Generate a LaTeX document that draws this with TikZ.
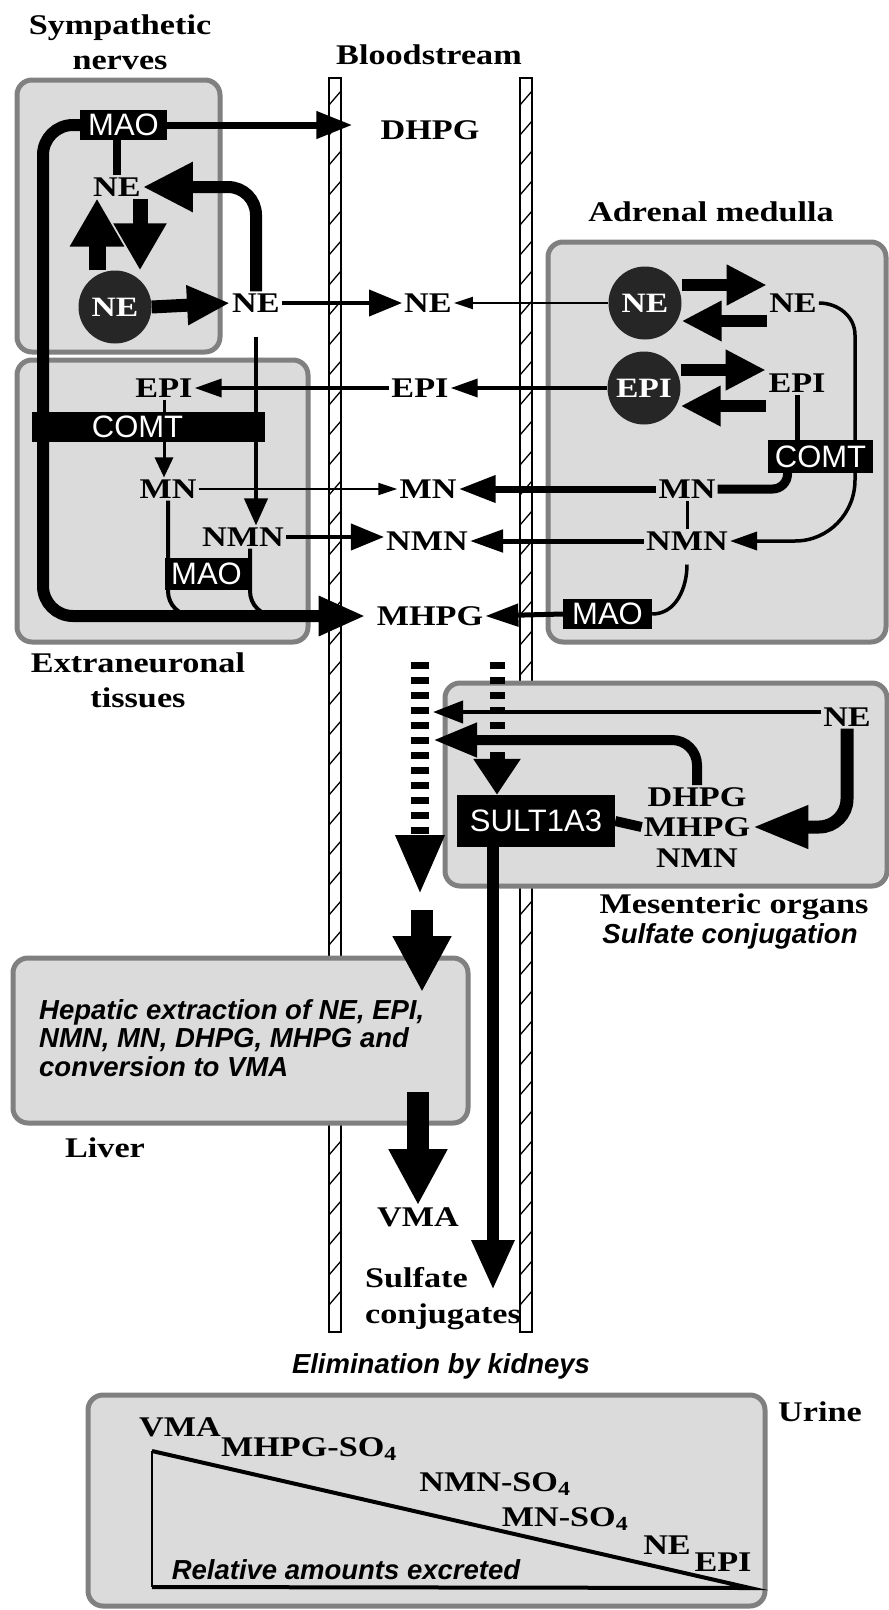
\documentclass[tikz,border=0pt]{standalone}
\usepackage{fontspec}
\setmainfont{Liberation Serif}[FakeStretch=1.2]
\setsansfont{Liberation Sans}
\usetikzlibrary{arrows.meta}
\pgfdeclarelayer{back}
\pgfdeclarelayer{lines}
\pgfsetlayers{back,lines,main}

\begin{document}
\begin{tikzpicture}[x=1pt,y=-1pt,
  every node/.style={inner sep=2pt},
  lab/.style={font=\fontsize{28.5}{35}\selectfont\bfseries,align=center},
  ital/.style={font=\sffamily\bfseries\itshape\fontsize{27.5}{28.5}\selectfont},
  enz/.style={fill=black,text=white,font=\sffamily\fontsize{31}{31}\selectfont,inner sep=0pt},
  ves/.style={circle,fill=black!85,text=white,minimum size=73pt,inner sep=0pt,font=\fontsize{28}{28}\selectfont\bfseries},
  organ/.style={draw=black!50,fill=black!14,line width=5pt,rounded corners=15pt},
  wall/.style={draw=black,fill=white,line width=1.6pt},
  hatch/.style={line width=1.3pt},
  thinarr/.style={line width=2pt,-{Triangle[length=19pt,width=12pt]}},
  midarr/.style={line width=4pt,-{Triangle[length=33pt,width=26pt]}},
  medarr/.style={line width=3.5pt,-{Triangle[length=27pt,width=18pt]}},
  pair/.style={line width=12pt,-{Triangle[length=40pt,width=38pt]}},
  big/.style={line width=22pt,-{Triangle[length=56pt,width=55pt]}},
  ebar/.style={line width=8pt}]
\useasboundingbox (0,0) rectangle (889,1610);
\begin{pgfonlayer}{back}
\foreach \wx in {329,520} {
  \draw[wall] (\wx,78) rectangle (\wx+12,1332);
  \foreach \wy in {98,128,...,1318} \draw[hatch] (\wx,\wy+7) -- (\wx+12,\wy-7);
}
\node[organ,minimum width=203pt,minimum height=272pt] (BoxSym) at (118.5,216) {};
\node[organ,minimum width=291pt,minimum height=282pt] (BoxExt) at (162.5,501) {};
\node[organ,minimum width=338pt,minimum height=400pt] (BoxAdr) at (717,442) {};
\node[organ,minimum width=442pt,minimum height=203pt] (BoxMes) at (666,784.5) {};
\node[organ,minimum width=455pt,minimum height=165pt] (BoxLiv) at (240.5,1040.5) {};
\node[organ,minimum width=677pt,minimum height=211pt] (BoxUri) at (426.5,1500.5) {};
\end{pgfonlayer}
\node[lab] (TitleSym) at (120,42) {Sympathetic\\nerves};
\node[lab] (TitleBlood) at (429,55) {Bloodstream};
\node[lab] (TitleAdr) at (711,212) {Adrenal medulla};
\node[lab] (TitleExt) at (138,680) {Extraneuronal\\tissues};
\node[lab] (TitleMes) at (734,907) {Mesenteric organs};
\node[ital] (SubMes) at (730,936) {Sulfate conjugation};
\node[lab] (TitleLiv) at (105,1148) {Liver};
\node[ital] (Elim) at (441,1366) {Elimination by kidneys};
\node[lab] (TitleUri) at (820,1412) {Urine};
\node[enz,minimum width=87pt,minimum height=30pt] (SymMAO) at (123.5,125) {MAO};
\node[lab] (SymNEin) at (117,187) {NE};
\node[ves] (SymNEves) at (115,307) {NE};
\node[lab] (SymNE) at (256,303) {NE};
\node[lab] (BloodDHPG) at (430,130) {DHPG};
\node[lab] (BloodNE) at (428,303) {NE};
\node[lab] (BloodEPI) at (420,388) {EPI};
\node[lab] (BloodMN) at (428,489) {MN};
\node[lab] (BloodNMN) at (427,541) {NMN};
\node[lab] (BloodMHPG) at (430,616) {MHPG};
\node[lab] (ExtEPI) at (164,388) {EPI};
\node[enz,minimum width=233pt,minimum height=30pt] (ExtCOMT) at (148.5,427) {COMT\rule{22pt}{0pt}};
\node[lab] (ExtMN) at (168,489) {MN};
\node[lab] (ExtNMN) at (243,537) {NMN};
\node[enz,minimum width=83pt,minimum height=32pt] (ExtMAO) at (206.5,574) {MAO};
\node[ves] (AdrNEves) at (645,303) {NE};
\node[ves] (AdrEPIves) at (644,388) {EPI};
\node[lab] (AdrNE) at (793,303) {NE};
\node[lab] (AdrEPI) at (797,383) {EPI};
\node[enz,minimum width=105pt,minimum height=33pt] (AdrCOMT) at (820.5,456.5) {COMT};
\node[lab] (AdrMN) at (687,489) {MN};
\node[lab] (AdrNMN) at (687,541) {NMN};
\node[enz,minimum width=89pt,minimum height=30pt] (AdrMAO) at (607.5,614) {MAO};
\node[enz,minimum width=158pt,minimum height=52pt] (MesSULT) at (536,821) {SULT1A3};
\node[lab] (MesNE) at (847,717) {NE};
\node[lab] (MesDHPG) at (697,797) {DHPG};
\node[lab] (MesMHPG) at (697,827) {MHPG};
\node[lab] (MesNMN) at (697,858) {NMN};
\coordinate (DashLTop) at (420,662);
\coordinate (DashLTip) at (420,895);
\coordinate (DashRTop) at (497,662);
\coordinate (MesHitA) at (433,712);
\coordinate (MesHitB) at (433,740);
\node[ital,align=left,anchor=west] (LivText) at (37,1038) {Hepatic extraction of NE, EPI,\\NMN, MN, DHPG, MHPG and\\conversion to VMA};
\coordinate (LivInTop) at (422,910);
\coordinate (LivInTip) at (422,992);
\coordinate (LivOutTop) at (418,1092);
\node[lab] (BloodVMA) at (418,1217) {VMA};
\node[lab,align=left,anchor=north west,font=\fontsize{28.5}{36}\selectfont\bfseries] (BloodSulf) at (363,1265) {Sulfate\\conjugates};
\coordinate (SulfTip) at (493,1290);
\coordinate (UriTop) at (152,1451);
\coordinate (UriCorner) at (152,1587);
\coordinate (UriEnd) at (750,1588);
\node[lab] (UriVMA) at (180,1427) {VMA};
\node[lab] (UriMHPG) at (309,1449) {MHPG-SO\textsubscript{4}};
\node[lab] (UriNMN) at (495,1484) {NMN-SO\textsubscript{4}};
\node[lab] (UriMN) at (565,1519) {MN-SO\textsubscript{4}};
\node[lab] (UriNE) at (667,1545) {NE};
\node[lab] (UriEPI) at (723,1562) {EPI};
\node[ital] (UriRel) at (346,1570) {Relative amounts excreted};
\begin{pgfonlayer}{lines}
\draw[line width=7pt,-{Triangle[length=36pt,width=26pt]}] (SymMAO.east) -- ([xshift=-26pt]SymMAO.east -| BloodDHPG.west);
\draw[ebar] (SymMAO.south -| SymNEin) -- (SymNEin.north);
\draw[line width=12pt,rounded corners=30pt,-{Triangle[length=47pt,width=37pt]}] (SymMAO.west) -| (43,616) -- ([xshift=-9pt]BloodMHPG.west);
\draw[line width=17pt,-{Triangle[length=48pt,width=51pt]}] ([xshift=-18pt]SymNEves.north) -- ([xshift=-20pt]SymNEin.south);
\draw[line width=15pt,-{Triangle[length=47pt,width=50pt]}] ([xshift=23pt]SymNEin.south) -- ([xshift=25pt]SymNEves.north);
\draw[line width=13pt,-{Triangle[length=43pt,width=37pt]}] (SymNEves.east) -- (SymNE.west);
\draw[line width=12pt,rounded corners=28pt,-{Triangle[length=50pt,width=47pt]}] (SymNE.north) |- (SymNEin.east);
\draw[midarr] (SymNE.east) -- (BloodNE.west);
\draw[line width=4pt,-{Triangle[length=27pt,width=23pt]}] ([yshift=-22pt]SymNE.south) -- (SymNE.south |- ExtNMN.north);
\draw[pair] ([yshift=18pt]AdrNEves.east) -- ([xshift=85pt,yshift=18pt]AdrNEves.east);
\draw[pair] ([xshift=85pt,yshift=-18pt]AdrNEves.east) -- ([yshift=-18pt]AdrNEves.east);
\draw[pair] ([yshift=18pt]AdrEPIves.east) -- ([xshift=85pt,yshift=18pt]AdrEPIves.east);
\draw[pair] ([xshift=85pt,yshift=-18pt]AdrEPIves.east) -- ([yshift=-18pt]AdrEPIves.east);
\draw[thinarr] (AdrNEves.west) -- (BloodNE.east);
\draw[medarr] (AdrEPIves.west) -- (BloodEPI.east);
\draw[medarr] (BloodEPI.west) -- (ExtEPI.east);
\draw[line width=5pt] (AdrEPI.south) -- (AdrEPI.south |- AdrCOMT.north);
\draw[line width=9pt,rounded corners=15pt] ([xshift=-33pt]AdrCOMT.south) |- (AdrMN.east);
\draw[line width=7pt,-{Triangle[length=37pt,width=26pt]}] (AdrMN.west) -- (BloodMN.east);
\draw[line width=3pt] (AdrMN.south) -- (AdrNMN.north);
\draw[line width=5pt,-{Triangle[length=33pt,width=22pt]}] (AdrNMN.west) -- (BloodNMN.east);
\draw[medarr] (AdrNE.east) to[out=0,in=90] (855,335) -- (855,480) to[out=-90,in=0] (795,541) -- (AdrNMN.east);
\draw[line width=3.5pt] ([yshift=-12pt]AdrNMN.south) to[out=-90,in=0] (AdrMAO.east);
\draw[line width=5pt,-{Triangle[length=33pt,width=22pt]}] (AdrMAO.west) -- (BloodMHPG.east);
\draw[line width=3pt,-{Triangle[length=20pt,width=18pt]}] (ExtEPI.south) -- (ExtEPI.south |- ExtMN.north);
\draw[thinarr] (ExtMN.east) -- (BloodMN.west);
\draw[midarr] (ExtNMN.east) -- (ExtNMN.east -| BloodNMN.west);
\draw[line width=4pt,rounded corners=25pt] (ExtMN.south) |- (230,616);
\draw[line width=4pt,rounded corners=25pt] ([xshift=7pt]ExtNMN.south) |- (300,616);
\draw[line width=18pt,dash pattern=on 7pt off 8pt,-{Triangle[length=60pt,width=45pt]}] (DashLTop) -- (DashLTip);
\draw[line width=15pt,dash pattern=on 7pt off 8pt,-{Triangle[length=36pt,width=45pt]}] (DashRTop) -- (DashRTop |- MesSULT.north);
\draw[line width=4pt,-{Triangle[length=30pt,width=22pt]}] (MesNE.west |- MesHitA) -- (MesHitA);
\draw[line width=10pt,rounded corners=25pt,-{Triangle[length=44pt,width=32pt]}] (MesDHPG.north) |- (MesHitB);
\draw[line width=10pt] (MesSULT.east) -- (MesMHPG.west);
\draw[line width=13pt,rounded corners=28pt,-{Triangle[length=56pt,width=40pt]}] (MesNE.south) |- (MesMHPG.east);
\draw[line width=12pt,-{Triangle[length=50pt,width=40pt]}] (SulfTip |- MesSULT.south) -- (SulfTip);
\draw[big] (LivInTop) -- (LivInTip);
\draw[big] (LivOutTop) -- (BloodVMA.north);
\draw[line width=2pt] (UriTop) -- (UriCorner);
\draw[line width=4pt] (UriCorner) -- (UriEnd) -- (UriTop);
\end{pgfonlayer}
\end{tikzpicture}
\end{document}
